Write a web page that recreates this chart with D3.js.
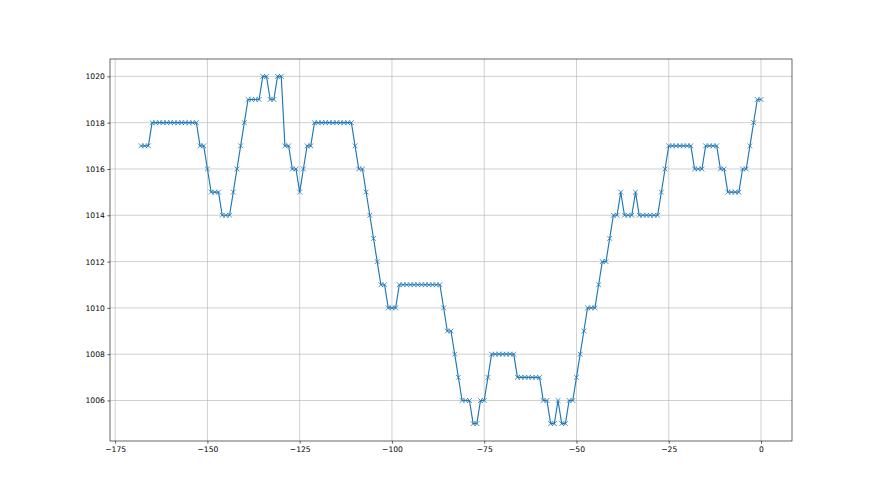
<!DOCTYPE html>
<html>
<head>
<meta charset="utf-8">
<script src="https://cdnjs.cloudflare.com/ajax/libs/d3/7.8.5/d3.min.js"></script>
<style>
  body { margin: 0; background: #fff; }
  text { font-family: "DejaVu Sans", sans-serif; }
</style>
</head>
<body>
<script>
// hours before now, one reading per hour
var hours = [
  -168, -167, -166, -165, -164, -163, -162, -161, -160, -159, -158, -157, -156, -155, -154, -153,
  -152, -151, -150, -149, -148, -147, -146, -145, -144, -143, -142, -141, -140, -139, -138, -137,
  -136, -135, -134, -133, -132, -131, -130, -129, -128, -127, -126, -125, -124, -123, -122, -121,
  -120, -119, -118, -117, -116, -115, -114, -113, -112, -111, -110, -109, -108, -107, -106, -105,
  -104, -103, -102, -101, -100, -99, -98, -97, -96, -95, -94, -93, -92, -91, -90, -89,
  -88, -87, -86, -85, -84, -83, -82, -81, -80, -79, -78, -77, -76, -75, -74, -73,
  -72, -71, -70, -69, -68, -67, -66, -65, -64, -63, -62, -61, -60, -59, -58, -57,
  -56, -55, -54, -53, -52, -51, -50, -49, -48, -47, -46, -45, -44, -43, -42, -41,
  -40, -39, -38, -37, -36, -35, -34, -33, -32, -31, -30, -29, -28, -27, -26, -25,
  -24, -23, -22, -21, -20, -19, -18, -17, -16, -15, -14, -13, -12, -11, -10, -9,
  -8, -7, -6, -5, -4, -3, -2, -1, 0
];
// pressure (hPa)
var pressure = [
  1017, 1017, 1017,
  1018, 1018, 1018, 1018, 1018, 1018, 1018, 1018, 1018, 1018, 1018, 1018, 1018,
  1017, 1017, 1016, 1015, 1015, 1015, 1014, 1014, 1014,
  1015, 1016, 1017, 1018, 1019, 1019, 1019, 1019,
  1020, 1020, 1019, 1019, 1020, 1020,
  1017, 1017, 1016, 1016, 1015, 1016, 1017, 1017,
  1018, 1018, 1018, 1018, 1018, 1018, 1018, 1018, 1018, 1018, 1018,
  1017, 1016, 1016, 1015, 1014, 1013, 1012, 1011, 1011,
  1010, 1010, 1010,
  1011, 1011, 1011, 1011, 1011, 1011, 1011, 1011, 1011, 1011, 1011, 1011,
  1010, 1009, 1009, 1008, 1007, 1006, 1006, 1006, 1005, 1005, 1006, 1006, 1007,
  1008, 1008, 1008, 1008, 1008, 1008, 1008,
  1007, 1007, 1007, 1007, 1007, 1007, 1007,
  1006, 1006, 1005, 1005, 1006, 1005, 1005, 1006, 1006,
  1007, 1008, 1009, 1010, 1010, 1010, 1011, 1012, 1012, 1013,
  1014, 1014, 1015, 1014, 1014, 1014, 1015,
  1014, 1014, 1014, 1014, 1014, 1014, 1015, 1016,
  1017, 1017, 1017, 1017, 1017, 1017, 1017,
  1016, 1016, 1016, 1017, 1017, 1017, 1017, 1016, 1016,
  1015, 1015, 1015, 1015, 1016, 1016, 1017, 1018, 1019, 1019
];
var xTicks = [-175, -150, -125, -100, -75, -50, -25, 0];
var yTicks = [1006, 1008, 1010, 1012, 1014, 1016, 1018, 1020];

var width = 880, height = 495;
var margin = {left: 110, right: 88, top: 59, bottom: 54};
var iw = width - margin.left - margin.right;
var ih = height - margin.top - margin.bottom;

var data = d3.range(hours.length).map(function(i) {
  return {x: hours[i], y: pressure[i]};
});

// matplotlib style 5% padding around the data
var xe = d3.extent(hours), ye = d3.extent(pressure);
var xp = (xe[1] - xe[0]) * 0.05, yp = (ye[1] - ye[0]) * 0.05;
var x = d3.scaleLinear().domain([xe[0] - xp, xe[1] + xp]).range([0, iw]);
var y = d3.scaleLinear().domain([ye[0] - yp, ye[1] + yp]).range([ih, 0]);

var svg = d3.select("body").append("svg")
  .attr("width", width)
  .attr("height", height);
var g = svg.append("g")
  .attr("transform", "translate(" + margin.left + "," + margin.top + ")");

// grid
g.append("g").selectAll("line").data(xTicks).enter().append("line")
  .attr("x1", function(d) { return x(d); })
  .attr("x2", function(d) { return x(d); })
  .attr("y1", 0).attr("y2", ih)
  .style("stroke", "#b0b0b0").style("stroke-width", 0.6);
g.append("g").selectAll("line").data(yTicks).enter().append("line")
  .attr("y1", function(d) { return y(d); })
  .attr("y2", function(d) { return y(d); })
  .attr("x1", 0).attr("x2", iw)
  .style("stroke", "#b0b0b0").style("stroke-width", 0.6);

// line
var line = d3.line()
  .x(function(d) { return x(d.x); })
  .y(function(d) { return y(d.y); });
g.append("path").datum(data)
  .attr("d", line)
  .style("fill", "none")
  .style("stroke", "#1f77b4")
  .style("stroke-width", 1.15);

// x markers
var ms = 2.4;
g.append("g").selectAll("path").data(data).enter().append("path")
  .attr("d", function(d) {
    var cx = x(d.x), cy = y(d.y);
    return "M" + (cx - ms) + "," + (cy - ms) + "L" + (cx + ms) + "," + (cy + ms) +
           "M" + (cx - ms) + "," + (cy + ms) + "L" + (cx + ms) + "," + (cy - ms);
  })
  .style("fill", "none")
  .style("stroke", "#1f77b4")
  .style("stroke-width", 0.8);

// axes
var xAxis = g.append("g")
  .attr("transform", "translate(0," + ih + ")")
  .call(d3.axisBottom(x).tickValues(xTicks).tickSize(2.7).tickPadding(2.5));
var yAxis = g.append("g")
  .call(d3.axisLeft(y).tickValues(yTicks).tickFormat(d3.format("d")).tickSize(2.7).tickPadding(2.5));
[xAxis, yAxis].forEach(function(a) {
  a.select(".domain").remove();
  a.selectAll("line").style("stroke", "#000").style("stroke-width", 0.6);
  a.selectAll("text").style("font-family", "DejaVu Sans").style("font-size", "7.6px").style("fill", "#000");
});

// frame
g.append("rect")
  .attr("width", iw).attr("height", ih)
  .style("fill", "none").style("stroke", "#000").style("stroke-width", 0.6);
</script>
</body>
</html>
